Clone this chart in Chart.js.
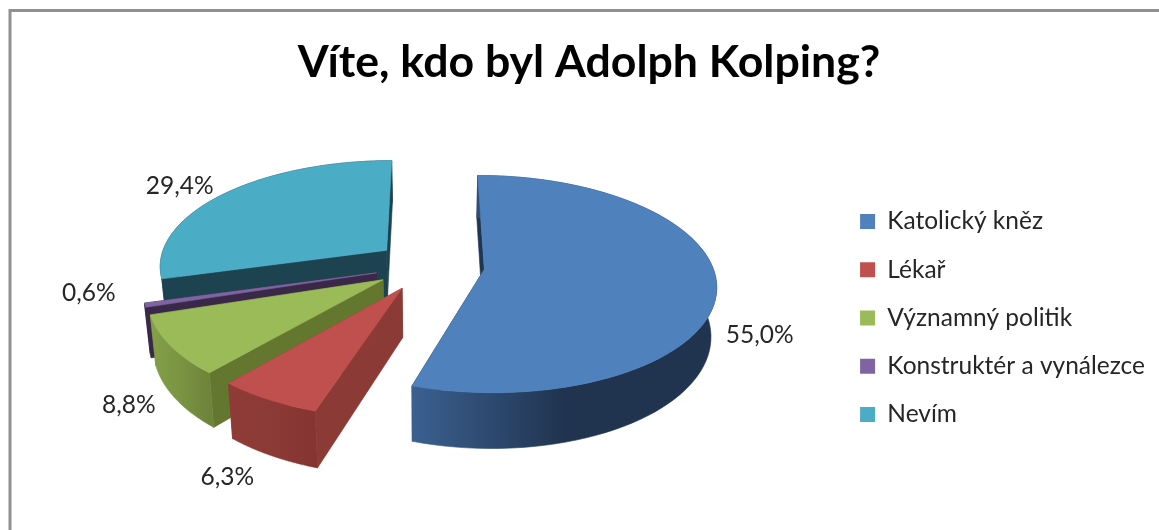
<!DOCTYPE html>
<html lang="cs">
<head>
<meta charset="utf-8">
<title>Víte, kdo byl Adolph Kolping?</title>
<script src="https://cdn.jsdelivr.net/npm/chart.js@4"></script>
<style>
  html, body { margin: 0; padding: 0; background: #fff; overflow: hidden; }
  canvas { display: block; }
</style>
</head>
<body>
<canvas id="chart" width="1159" height="530"></canvas>
<script>
const chartTitle = 'Víte, kdo byl Adolph Kolping?';
const categories = ['Katolický kněz', 'Lékař', 'Významný politik', 'Konstruktér a vynálezce', 'Nevím'];
const percents = [55.0, 6.3, 8.8, 0.6, 29.4];
const topColors = ['#4F81BD', '#C0504D', '#9BBB59', '#8064A2', '#4BACC6'];

// 3d look, not data
const wallColors = [
  ['#3b6090', '#203450', '#203450'],
  ['#8f3b37', '#8c3a36', '#853432'],
  ['#84a048', '#7a9442', '#6e843a'],
  ['#3a2849', '#3a2849', '#3a2849'],
  ['#1e4350', '#1e4350', '#1e4350']
];
const sideColors = ['#1f3552', '#8c3a36', '#64772f', '#3a2849', '#1e4350'];
const tilt = 0.463;
const persp = 0.135;
const depth = 48;
const bottomShrink = 0.98;
// how far each value label sits from its spot on the rim
const labelNudge = [[-7, 45], [-8, 50], [8, 44], [-5, -19], [-14, 3]];

function project(arc, px, py, z) {
  const w = 1 / (1 - persp * py / arc.outerRadius);
  const s = z ? bottomShrink : 1;
  return {
    x: arc.x + px * w * s,
    y: arc.y + py * tilt * w + z * depth * w
  };
}

function rimPoints(arc, z, radius) {
  const mid = (arc.startAngle + arc.endAngle) / 2;
  const off = arc.options.offset;
  const pts = [];
  for (let i = 0; i <= 80; i++) {
    const a = arc.startAngle + (arc.endAngle - arc.startAngle) * i / 80;
    pts.push(project(arc,
      off * Math.cos(mid) + radius * Math.cos(a),
      off * Math.sin(mid) + radius * Math.sin(a), z));
  }
  return pts;
}

function apexPoint(arc, z) {
  const mid = (arc.startAngle + arc.endAngle) / 2;
  const off = arc.options.offset;
  return project(arc, off * Math.cos(mid), off * Math.sin(mid), z);
}

function fillPoly(ctx, pts, fill) {
  ctx.beginPath();
  pts.forEach((p, i) => i ? ctx.lineTo(p.x, p.y) : ctx.moveTo(p.x, p.y));
  ctx.closePath();
  ctx.fillStyle = fill;
  ctx.fill();
  ctx.strokeStyle = fill;
  ctx.lineWidth = 0.6;
  ctx.stroke();
}

function drawSlice(ctx, arc, i) {
  const top = rimPoints(arc, 0, arc.outerRadius);
  const bottom = rimPoints(arc, 1, arc.outerRadius);
  const apexTop = apexPoint(arc, 0);
  const apexBottom = apexPoint(arc, 1);
  const last = top.length - 1;
  // cut faces first, the rim and the lid go over them
  fillPoly(ctx, [apexTop, top[0], bottom[0], apexBottom], sideColors[i]);
  fillPoly(ctx, [apexTop, top[last], bottom[last], apexBottom], sideColors[i]);
  const xs = top.map(p => p.x);
  const grad = ctx.createLinearGradient(Math.min(...xs), 0, Math.max(...xs), 0);
  wallColors[i].forEach((c, k) => grad.addColorStop(k / 2, c));
  fillPoly(ctx, top.concat(bottom.slice().reverse()), grad);
  fillPoly(ctx, [apexTop].concat(top), topColors[i]);
}

const pie3d = {
  id: 'pie3d',
  beforeDraw(chart) {
    const ctx = chart.ctx;
    ctx.save();
    ctx.beginPath();
    ctx.moveTo(10, 530);
    ctx.lineTo(10, 10.5);
    ctx.lineTo(1159, 10.5);
    ctx.strokeStyle = '#909090';
    ctx.lineWidth = 3;
    ctx.stroke();
    ctx.restore();
  },
  beforeDatasetDraw(chart, args) {
    const ctx = chart.ctx;
    const arcs = args.meta.data;
    const order = arcs.map((a, i) => i).sort((p, q) =>
      Math.sin((arcs[p].startAngle + arcs[p].endAngle) / 2) -
      Math.sin((arcs[q].startAngle + arcs[q].endAngle) / 2));
    ctx.save();
    order.forEach(i => drawSlice(ctx, arcs[i], i));
    ctx.font = '24.5px Lato';
    ctx.fillStyle = '#262626';
    ctx.textAlign = 'center';
    ctx.textBaseline = 'middle';
    arcs.forEach((arc, i) => {
      const mid = (arc.startAngle + arc.endAngle) / 2;
      const r = arc.outerRadius * 1.21 + arc.options.offset;
      const p = project(arc, r * Math.cos(mid), r * Math.sin(mid), 0);
      const text = percents[i].toFixed(1).replace('.', ',') + '%';
      ctx.fillText(text, p.x + labelNudge[i][0], p.y + labelNudge[i][1]);
    });
    ctx.restore();
    return false;
  }
};

new Chart(document.getElementById('chart'), {
  type: 'pie',
  data: {
    labels: categories,
    datasets: [{
      data: percents,
      backgroundColor: topColors,
      borderWidth: 0,
      offset: 55,
      radius: 228
    }]
  },
  options: {
    responsive: false,
    animation: false,
    layout: { padding: { left: 23, right: 4, top: 0, bottom: 79.5 } },
    plugins: {
      tooltip: { enabled: false },
      title: {
        display: true,
        text: chartTitle,
        color: '#000',
        font: { family: 'Lato', size: 44.6, weight: 'bold', lineHeight: 0.6 },
        padding: { top: 49.5, bottom: 4 }
      },
      legend: {
        position: 'right',
        align: 'end',
        maxWidth: 319,
        labels: {
          color: '#262626',
          font: { family: 'Lato', size: 24.5 },
          boxWidth: 15,
          boxHeight: 15,
          padding: 23.75
        }
      }
    }
  },
  plugins: [pie3d]
});
</script>
</body>
</html>
